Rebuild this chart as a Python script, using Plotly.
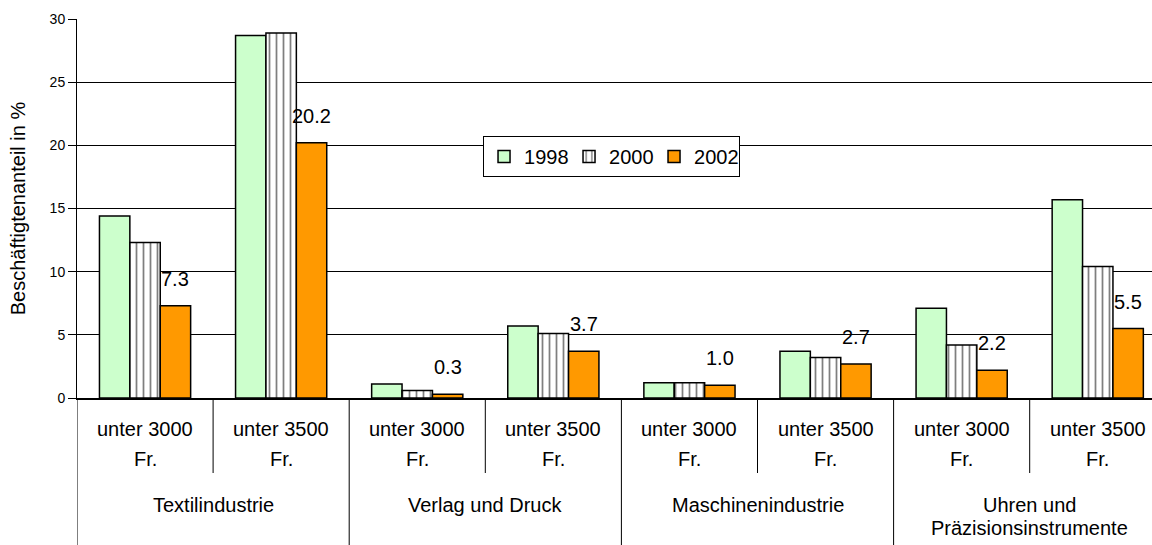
import plotly.graph_objects as go

groups_line1 = ["Textilindustrie", "Verlag und Druck", "Maschinenindustrie", "Uhren und"]
groups_line2 = ["", "", "", "Präzisionsinstrumente"]
wages_line1 = ["unter 3000", "unter 3500"]
wages_line2 = ["Fr.", "Fr."]

years = ["1998", "2000", "2002"]
v1998 = [14.4, 28.7, 1.1, 5.7, 1.2, 3.7, 7.1, 15.7]
v2000 = [12.3, 28.9, 0.6, 5.1, 1.2, 3.2, 4.2, 10.4]
v2002 = [7.3, 20.2, 0.3, 3.7, 1.0, 2.7, 2.2, 5.5]

font = "Liberation Sans, Arial, sans-serif"
n_w = len(wages_line1)
n = len(groups_line1) * n_w
xs = list(range(n))
bargap = 0.33
barw = (1 - bargap) / 3

fig = go.Figure()
fig.add_trace(go.Bar(name=years[0], x=xs, y=v1998,
                     marker=dict(color="#CCFFCC", line=dict(color="black", width=1.5))))
fig.add_trace(go.Bar(name=years[1], x=xs, y=v2000,
                     marker=dict(color="white", line=dict(color="black", width=1.5),
                                 pattern=dict(shape="|", fgcolor="black", bgcolor="white",
                                              size=7, solidity=0.25))))
fig.add_trace(go.Bar(name=years[2], x=xs, y=v2002,
                     marker=dict(color="#FF9900", line=dict(color="black", width=1.5))))

ann = []
for i, v in enumerate(v2002):
    ann.append(dict(x=i + barw, y=v, xref="x", yref="y", text=f"{v:.1f}", showarrow=False,
                    yanchor="middle", yshift=27, font=dict(size=20, color="black")))
for i in xs:
    w = i % n_w
    ann.append(dict(x=i, y=0, xref="x", yref="y", text=wages_line1[w], showarrow=False,
                    yanchor="middle", yshift=-31, font=dict(size=20)))
    ann.append(dict(x=i, y=0, xref="x", yref="y", text=wages_line2[w], showarrow=False,
                    yanchor="middle", yshift=-61, font=dict(size=20)))
for g in range(len(groups_line1)):
    cx = g * n_w + (n_w - 1) / 2
    ann.append(dict(x=cx, y=0, xref="x", yref="y", text=groups_line1[g], showarrow=False,
                    yanchor="middle", yshift=-107, font=dict(size=20)))
    if groups_line2[g]:
        ann.append(dict(x=cx, y=0, xref="x", yref="y", text=groups_line2[g], showarrow=False,
                        yanchor="middle", yshift=-130, font=dict(size=20)))

shapes = []
plot_h = 545 - 19 - 147
for g in range(len(groups_line1)):
    xd = g * n_w + 0.5
    shapes.append(dict(type="line", xref="x", yref="paper", x0=xd, x1=xd, y0=0,
                       y1=-75 / plot_h, line=dict(color="black", width=1)))
    xo = g * n_w - 0.5
    shapes.append(dict(type="line", xref="x", yref="paper", x0=xo, x1=xo, y0=0,
                       y1=-147 / plot_h, line=dict(color="black", width=1)))

fig.update_layout(
    width=1152, height=545,
    margin=dict(l=77, r=0, t=19, b=147),
    paper_bgcolor="white", plot_bgcolor="white",
    barmode="group", bargap=bargap, bargroupgap=0,
    font=dict(family=font, color="black", size=20),
    legend=dict(orientation="h", x=0.3777, y=0.691, xanchor="left", yanchor="top",
                bordercolor="black", borderwidth=1, bgcolor="white",
                font=dict(size=20), itemwidth=30, entrywidth=40, tracegroupgap=0),
    yaxis=dict(range=[0, 30], dtick=5, showgrid=True, gridcolor="black", gridwidth=1,
               showline=True, linecolor="black", linewidth=1, ticks="outside", ticklen=8,
               tickcolor="black", tickfont=dict(size=14), zeroline=False, automargin=False,
               title=dict(text="Beschäftigtenanteil in %", font=dict(size=20), standoff=18)),
    xaxis=dict(range=[-0.5, -0.5 + (1152 - 77) / 136.1], showline=True, linecolor="black",
               linewidth=1.5, showticklabels=False, ticks="", showgrid=False,
               zeroline=False, automargin=False),
    annotations=ann, shapes=shapes,
)
fig.write_html("out.html", config={"displayModeBar": False},
               post_script="document.body.style.margin='0';")
